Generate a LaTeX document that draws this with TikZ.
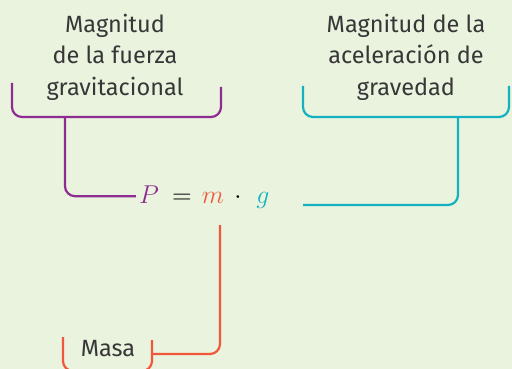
\documentclass[tikz,border=0pt]{standalone}
\usepackage{fontspec}
\setmainfont{Fira Sans}
\definecolor{bg}{RGB}{233,243,222}
\definecolor{cpurple}{RGB}{142,44,146}
\definecolor{ccyan}{RGB}{20,178,192}
\definecolor{corange}{RGB}{240,88,60}
\definecolor{ctext}{RGB}{55,55,55}
\newcommand{\eqsym}[1]{\scalebox{2.15}{$#1$}}
\tikzset{
  lbl/.style={text=ctext, align=center, font=\fontsize{23.5}{31.5}\selectfont, inner sep=0pt},
  eq/.style={anchor=base, inner sep=0pt, font=\fontsize{12}{14}\selectfont},
  conn/.style={line width=2.2pt, rounded corners=10pt},
}
\begin{document}
\begin{tikzpicture}[x=1pt,y=-1pt]
\fill[bg] (0,0) rectangle (512,369);
\useasboundingbox (0,0) rectangle (512,369);
% texts
\node[lbl] (tf) at (115,57) {Magnitud\\de la fuerza\\gravitacional};
\node[lbl] (ta) at (406,57) {Magnitud de la\\aceleración de\\gravedad};
\node[lbl] (tm) at (108,349) {Masa};
% equation
\node[eq, text=cpurple] (P) at (149,203) {\eqsym{P}};
\node[eq] (eqs) at (182,203) {\eqsym{=}};
\node[eq, text=corange] (m) at (213,203) {\eqsym{m}};
\node[eq] (dot) at (238,203) {\eqsym{\cdot}};
\node[eq, text=ccyan] (g) at (263,203) {\eqsym{g}};
% purple
\draw[conn, cpurple] (12,83) |- (221,117) -- (221,87);
\coordinate (pstem) at (65,117);
\draw[conn, cpurple] (pstem) |- ([xshift=-3pt,yshift=-2pt]P.west);
% cyan
\draw[conn, ccyan] (303,86) |- (509,117) -- (509,86);
\coordinate (cstem) at (458,117);
\coordinate (gend) at (303,205);
\draw[conn, ccyan] (cstem) |- (gend);
% orange
\coordinate (mtop) at (220,225);
\draw[conn, corange] (mtop) |- (152,354);
\draw[conn, corange] (63,337) |- (152,371) -- (152,340);
\end{tikzpicture}
\end{document}
